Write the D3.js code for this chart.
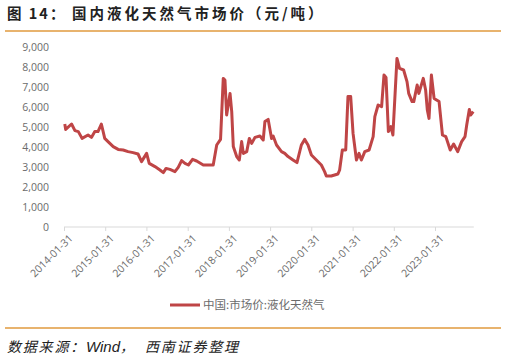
<!DOCTYPE html>
<html><head><meta charset="utf-8">
<script src="https://cdn.jsdelivr.net/npm/d3@7"></script>
<style>
body{margin:0;background:#fff;}
svg{display:block;font-family:"Noto Sans CJK SC","Noto Sans",sans-serif;}
</style></head><body>
<svg id="c" width="507" height="360"></svg>
<script>
const dates = ["2014-02-07","2014-02-15","2014-04-08","2014-05-08","2014-06-07","2014-07-10","2014-09-01","2014-10-01","2014-10-31","2014-11-28","2014-12-28","2015-01-27","2015-02-25","2015-04-12","2015-05-26","2015-07-09","2015-08-22","2015-10-05","2015-11-18","2015-12-19","2016-02-02","2016-02-25","2016-04-16","2016-05-30","2016-06-29","2016-07-23","2016-08-27","2016-10-10","2016-11-08","2016-12-08","2017-01-07","2017-02-06","2017-03-15","2017-04-20","2017-06-18","2017-09-14","2017-10-15","2017-11-18","2017-12-12","2017-12-27","2018-01-11","2018-02-10","2018-02-25","2018-03-11","2018-04-10","2018-05-03","2018-05-24","2018-06-08","2018-07-08","2018-07-31","2018-08-21","2018-09-19","2018-11-02","2018-12-01","2018-12-16","2019-01-14","2019-02-13","2019-02-27","2019-03-29","2019-05-12","2019-06-10","2019-07-09","2019-08-22","2019-09-26","2019-11-04","2019-12-03","2020-01-02","2020-02-01","2020-03-16","2020-04-29","2020-05-28","2020-06-12","2020-07-26","2020-09-23","2020-10-08","2020-11-01","2020-12-01","2020-12-21","2021-01-14","2021-02-04","2021-03-06","2021-03-29","2021-04-19","2021-05-19","2021-06-26","2021-08-01","2021-08-16","2021-09-14","2021-10-15","2021-11-05","2021-11-23","2021-12-14","2022-01-05","2022-01-23","2022-02-28","2022-03-23","2022-04-28","2022-05-28","2022-06-12","2022-07-12","2022-07-27","2022-08-26","2022-09-10","2022-10-19","2022-11-09","2022-11-24","2022-12-09","2022-12-30","2023-01-23","2023-03-08","2023-04-07","2023-05-07","2023-06-15","2023-07-15","2023-08-20","2023-09-24","2023-10-24","2023-11-08","2023-12-01","2023-12-13","2024-01-05"];
const prices = [5150,4880,5150,4820,4770,4430,4600,4480,4770,4770,5150,4430,4270,4020,3880,3850,3770,3720,3650,3270,3680,3180,3020,2850,2720,2930,2880,2770,2980,3320,3180,3100,3380,3300,3100,3100,4100,4380,7430,7350,5600,6680,5770,4020,3520,3350,4270,3680,3770,4430,4180,4480,4550,4350,5270,5380,4430,4550,4100,3770,3680,3520,3350,3220,4100,4380,4100,3600,3350,3100,2770,2550,2550,2650,2850,3850,3850,6520,6520,4680,3350,3680,3350,3770,3850,4520,5520,6100,6020,7600,7480,4770,5020,4600,8430,7930,7850,7270,6680,6270,6270,7100,6680,7430,6850,5850,5430,7600,6430,6270,4600,4520,3850,4150,3770,4270,4520,5100,5880,5600,5770];
const xTicks = ["2014-01-31","2015-01-31","2016-01-31","2017-01-31","2018-01-31","2019-01-31","2020-01-31","2021-01-31","2022-01-31","2023-01-31"];
const yTicks = [0,1000,2000,3000,4000,5000,6000,7000,8000,9000];
const seriesName = "中国:市场价:液化天然气";
const titleLabel = "图 14：";
const titleText = "国内液化天然气市场价（元/吨）";
const sourceParts = ["数据来源：","Wind，","西南证券整理"];

const parse = d3.timeParse("%Y-%m-%d");
const data = dates.map((d,i)=>({date:parse(d),v:prices[i]}));
const svg = d3.select("#c");
const orange = "#e09a3e", red = "#bf4546", grey = "#6b6b6b";

const t = svg.append("text").attr("y",19).attr("font-size",14.5).attr("font-weight","bold").attr("fill","#222");
t.append("tspan").attr("x",7).attr("letter-spacing",2).text(titleLabel);
t.append("tspan").attr("x",72).attr("letter-spacing",3).text(titleText);
svg.append("line").attr("x1",5).attr("x2",501).attr("y1",31).attr("y2",31).attr("stroke",orange).attr("stroke-width",1.5);

const x = d3.scaleTime().domain([parse("2014-01-31"),parse("2023-01-31")]).range([64,435]);
const y = d3.scaleLinear().domain([0,9000]).range([227,47]);
const xEnd = x(parse("2024-01-10"));

const ya = svg.append("g").attr("transform","translate(49,0)")
  .call(d3.axisLeft(y).tickValues(yTicks).tickSize(0).tickPadding(0).tickFormat(d3.format(",")));
ya.select(".domain").remove();
ya.selectAll("text").attr("font-size",10.5).attr("fill",grey).attr("font-family","'Open Sans','Noto Sans',sans-serif");

const xa = svg.append("g").attr("transform","translate(0,227)")
  .call(d3.axisBottom(x).tickValues(xTicks.map(parse)).tickSize(4).tickSizeOuter(0).tickFormat(d3.timeFormat("%Y-%m-%d")));
xa.select(".domain").attr("d",`M64,0H${xEnd}`).attr("stroke","#d9d9d9");
xa.selectAll(".tick line").attr("stroke","#d9d9d9");
xa.selectAll("text").attr("font-size",10.5).attr("fill",grey).attr("font-family","'Open Sans','Noto Sans',sans-serif")
  .attr("text-anchor","end").attr("dy",0).attr("transform","translate(4,7) rotate(-45)");

svg.append("path").datum(data)
  .attr("d",d3.line().x(d=>x(d.date)).y(d=>y(d.v)))
  .attr("fill","none").attr("stroke",red).attr("stroke-width",3).attr("stroke-linejoin","round");

svg.append("line").attr("x1",170).attr("x2",200).attr("y1",305).attr("y2",305).attr("stroke",red).attr("stroke-width",3);
svg.append("text").attr("x",203).attr("y",309).attr("font-size",11.5).attr("fill",grey).text(seriesName);

svg.append("line").attr("x1",5).attr("x2",501).attr("y1",328).attr("y2",328).attr("stroke",orange).attr("stroke-width",1.5);
const s = svg.append("text").attr("y",352).attr("font-size",14).attr("font-style","italic").attr("fill","#222");
s.append("tspan").attr("x",7).attr("letter-spacing",1.8).text(sourceParts[0]);
s.append("tspan").attr("x",86).attr("font-family","'Liberation Sans',Arial,sans-serif").attr("font-size",15).text(sourceParts[1].slice(0,4));
s.append("tspan").text(sourceParts[1].slice(4));
s.append("tspan").attr("x",145).attr("letter-spacing",1.8).text(sourceParts[2]);
</script></body></html>
